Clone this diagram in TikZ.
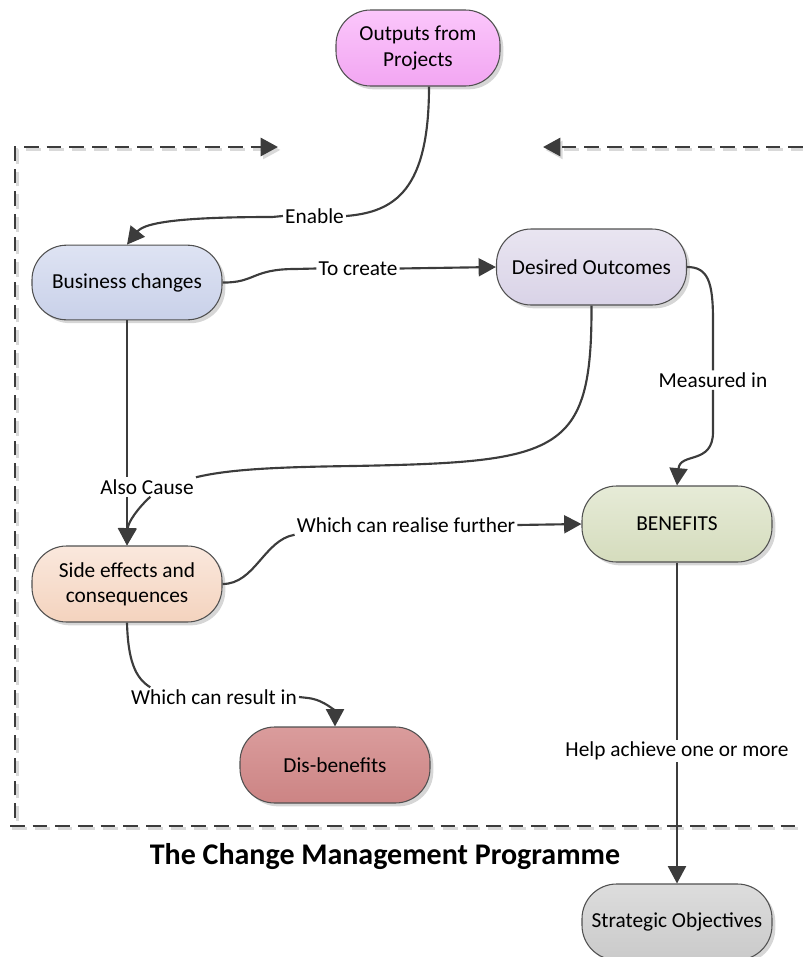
\documentclass[tikz,border=0pt]{standalone}
\usepackage{fontspec}
\setmainfont{Carlito}
\usetikzlibrary{arrows.meta,shadows}

\definecolor{ink}{HTML}{3C3C3C}
\definecolor{outline}{HTML}{505050}
\definecolor{pinkT}{HTML}{FBC6FB}\definecolor{pinkB}{HTML}{F2A6F2}
\definecolor{blueT}{HTML}{DEE3F3}\definecolor{blueB}{HTML}{C9D1E9}
\definecolor{lilacT}{HTML}{E9E5F1}\definecolor{lilacB}{HTML}{D9D3E7}
\definecolor{greenT}{HTML}{E6EBD7}\definecolor{greenB}{HTML}{D5DCBD}
\definecolor{peachT}{HTML}{FAE8DD}\definecolor{peachB}{HTML}{F4D3BE}
\definecolor{roseT}{HTML}{DA9C9C}\definecolor{roseB}{HTML}{CC8484}
\definecolor{greyT}{HTML}{DDDDDD}\definecolor{greyB}{HTML}{CACACA}

\begin{document}
\begin{tikzpicture}[x=0.75pt,y=-0.75pt,
  txt/.style={font=\fontsize{16}{19}\selectfont},
  box/.style={txt, draw=outline, line width=0.8pt, rounded corners=26pt,
    minimum height=57pt, minimum width=142.5pt, align=center, inner sep=2pt,
    drop shadow={shadow xshift=2.5pt,shadow yshift=-2.5pt,fill=black,opacity=0.16}},
  lbl/.style={txt, inner sep=1.5pt},
  conn/.style={draw=ink, line width=1.6pt},
  arr/.style={conn, -{Triangle[length=13pt,width=13.5pt]}},
  frameline/.style={draw=ink, line width=2.2pt, dash pattern=on 11pt off 6pt},
  frameshade/.style={draw=black!15, line width=2.2pt, dash pattern=on 11pt off 6pt},
  framearr/.style={-{Triangle[length=13pt,width=13.5pt]}}
]
\useasboundingbox (0,0) rectangle (803,957);

% dashed programme frame (a faint shadow copy first)
\coordinate (fbl) at (15,818);
\coordinate (ftl) at (15,147);
\coordinate (ftipL) at (278,147);
\coordinate (ftr) at (803,147);
\coordinate (ftipR) at (543,147);
\coordinate (fbotL) at (10,826);
\coordinate (fbotR) at (803,826);
\begin{scope}[transform canvas={shift={(1.8pt,-2.2pt)}}]
  \draw[frameshade, framearr] (fbl) -- (ftl) -- (ftipL);
  \draw[frameshade, framearr] (ftr) -- (ftipR);
  \draw[frameshade] (fbotL) -- (fbotR);
\end{scope}
\draw[frameline, framearr] (fbl) -- (ftl) -- (ftipL);
\draw[frameline, framearr] (ftr) -- (ftipR);
\draw[frameline] (fbotL) -- (fbotR);

% process boxes
\node[box, minimum width=123pt, top color=pinkT, bottom color=pinkB] (out) at (418,48) {Outputs from\\Projects};
\node[box, minimum height=56pt, top color=blueT, bottom color=blueB] (bus) at (127,282.5) {Business changes};
\node[box, top color=lilacT, bottom color=lilacB] (des) at (591.5,267) {Desired Outcomes};
\node[box, top color=greenT, bottom color=greenB] (ben) at (677,524) {BENEFITS};
\node[box, top color=peachT, bottom color=peachB] (side) at (127,584) {Side effects and\\consequences};
\node[box, top color=roseT, bottom color=roseB] (dis) at (335,765) {Dis-benefits};
\node[box, top color=greyT, bottom color=greyB] (str) at (677,922) {Strategic Objectives};

% connector labels
\node[lbl] (enable) at (314.5,216) {Enable};
\node[lbl] (create) at (358,268.5) {To create};
\node[lbl] (meas) at (713,380) {Measured in};
\node[lbl] (also) at (147,487) {Also Cause};
\node[lbl] (realise) at (406,525) {Which can realise further};
\node[lbl] (result) at (214,697) {Which can result in};
\node[lbl] (help) at (677,751) {Help achieve one or more};

% connectors
\draw[conn] ([xshift=8.25pt]out.south) .. controls (429,190) and (395,212) .. (enable.east);
\draw[arr] (enable.west) -- (272,217) .. controls (185,217) and (145,222) .. (bus.north);

\draw[conn] (bus.east) .. controls (255,283) and (252,269) .. (295,269) -- (create.west);
\draw[arr] (create.east) -- (des.west);

\draw[conn] (des.east) .. controls (708,267) and (713,282) .. (713,320) -- (meas.north);
\draw[arr] (meas.south) -- (713,432) .. controls (713,465) and (680,452) .. (ben.north);

\draw[conn] (bus.south) -- (bus.south |- also.north);
\draw[arr] (bus.south |- also.south) -- (side.north);

\draw[conn] (des.south) .. controls (592,455) and (560,462) .. (353,466)
  .. controls (280,467) and (230,469) .. (also.north east);
\draw[arr] ([xshift=2.5pt]also.south) .. controls (138,508) and (128,522) .. (side.north);

\draw[conn] (side.east) .. controls (255,584) and (264,540) .. (realise.south west);
\draw[arr] (realise.east) -- (ben.west);

\draw[conn] (side.south) .. controls (128,660) and (135,678) .. ([xshift=16pt]result.north west);
\draw[arr] (result.east) -- (308,698) .. controls (325,700) and (335,712) .. (dis.north);

\draw[conn] (ben.south) -- (help.north);
\draw[arr] (help.south) -- (str.north);

% programme title
\node[font=\bfseries\fontsize{22.5}{27}\selectfont] (title) at (385,857) {The Change Management Programme};
\end{tikzpicture}
\end{document}
